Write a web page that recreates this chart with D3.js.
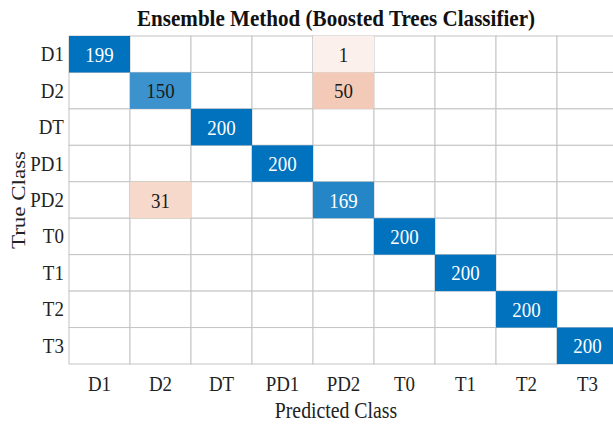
<!DOCTYPE html>
<html>
<head>
<meta charset="utf-8">
<script src="https://cdn.jsdelivr.net/npm/d3@7"></script>
<style>
  body { margin: 0; background: #fff; }
</style>
</head>
<body>
<svg id="chart" width="613" height="432"></svg>
<script>

var classes = ["D1", "D2", "DT", "PD1", "PD2", "T0", "T1", "T2", "T3"]

// rows = true class, cols = predicted class, 0 = empty cell
var counts = [
    [199, 0, 0, 0, 1, 0, 0, 0, 0],
    [0, 150, 0, 0, 50, 0, 0, 0, 0],
    [0, 0, 200, 0, 0, 0, 0, 0, 0],
    [0, 0, 0, 200, 0, 0, 0, 0, 0],
    [0, 31, 0, 0, 169, 0, 0, 0, 0],
    [0, 0, 0, 0, 0, 200, 0, 0, 0],
    [0, 0, 0, 0, 0, 0, 200, 0, 0],
    [0, 0, 0, 0, 0, 0, 0, 200, 0],
    [0, 0, 0, 0, 0, 0, 0, 0, 200]
]

var titleText = "Ensemble Method (Boosted Trees Classifier)"
var xLabel = "Predicted Class"
var yLabel = "True Class"

var font = "Liberation Serif, Times New Roman, serif"
var gLeft = 69, gTop = 36
var gridW = 549, gridH = 328
var squeeze = 0.86   // the source picture is a bit narrower than tall

var svg = d3.select("#chart")

var xScale = d3.scaleBand()
    .domain(classes)
    .range([gLeft, gLeft + gridW])

var yScale = d3.scaleBand()
    .domain(classes)
    .range([gTop, gTop + gridH])

var maxVal = d3.max(counts, function(r){ return d3.max(r) })

// non-zero cells never go fully white
var shade = d3.scaleLinear().domain([0, maxVal]).range([0.08, 1])
var blue = d3.interpolateRgb("#ffffff", "rgb(0,114,190)")
var red = d3.interpolateRgb("#ffffff", "rgb(217,83,25)")

var cells = []
counts.forEach(function(row, i){
    row.forEach(function(v, j){
        cells.push({row: classes[i], col: classes[j], v: v, diag: i == j})
    })
})
var filled = cells.filter(function(d){ return d.v > 0 })

// grid of empty cells
svg.append("g").selectAll("rect")
    .data(cells)
    .enter().append("rect")
    .attr("x", function(d){ return xScale(d.col) })
    .attr("y", function(d){ return yScale(d.row) })
    .attr("width", xScale.bandwidth())
    .attr("height", yScale.bandwidth())
    .attr("fill", "#ffffff")
    .attr("stroke", "#c4c4c4")
    .attr("stroke-width", 1)

// coloured cells on top so the grid does not cross them
svg.append("g").selectAll("rect")
    .data(filled)
    .enter().append("rect")
    .attr("x", function(d){ return xScale(d.col) })
    .attr("y", function(d){ return yScale(d.row) })
    .attr("width", xScale.bandwidth())
    .attr("height", yScale.bandwidth())
    .attr("fill", function(d){
        return d.diag ? blue(shade(d.v)) : red(shade(d.v))
    })

svg.append("g").selectAll("text")
    .data(filled)
    .enter().append("text")
    .attr("transform", function(d){
        var cx = xScale(d.col) + xScale.bandwidth() / 2
        var cy = yScale(d.row) + yScale.bandwidth() / 2 + 7.5
        return "translate(" + cx + "," + cy + ") scale(" + squeeze + ",1)"
    })
    .attr("text-anchor", "middle")
    .attr("font-family", font)
    .attr("font-size", 22)
    .attr("fill", function(d){ return (d.diag && shade(d.v) > 0.82) ? "#ffffff" : "#1a1a1a" })
    .text(function(d){ return d.v })

// axes
var x_axis = d3.axisBottom(xScale).tickSize(0).tickPadding(11)
var y_axis = d3.axisLeft(yScale).tickSize(0).tickPadding(6)

var gx = svg.append("g")
    .attr("transform", "translate(0," + (gTop + gridH) + ")")
    .call(x_axis)
gx.select(".domain").remove()
gx.attr("font-family", font)
gx.selectAll("text").attr("font-size", 22).attr("fill", "#222")
    .attr("transform", "scale(" + squeeze + ",1)")

var gy = svg.append("g")
    .attr("transform", "translate(" + gLeft + ",0)")
    .call(y_axis)
gy.select(".domain").remove()
gy.attr("font-family", font)
gy.selectAll("text").attr("font-size", 22).attr("fill", "#222")
    .attr("transform", "scale(" + squeeze + ",1)")

svg.append("text")
    .attr("x", 336)
    .attr("y", 26)
    .attr("text-anchor", "middle")
    .attr("font-family", font)
    .attr("font-size", 23)
    .attr("font-weight", "bold")
    .attr("fill", "#111")
    .attr("textLength", 398)
    .attr("lengthAdjust", "spacingAndGlyphs")
    .text(titleText)

svg.append("text")
    .attr("transform", "translate(336,418) scale(" + squeeze + ",1)")
    .attr("text-anchor", "middle")
    .attr("font-family", font)
    .attr("font-size", 23)
    .attr("fill", "#222")
    .text(xLabel)

svg.append("text")
    .attr("transform", "translate(25," + (gTop + gridH / 2) + ") rotate(-90) scale(1," + squeeze + ")")
    .attr("text-anchor", "middle")
    .attr("font-family", font)
    .attr("font-size", 23)
    .attr("fill", "#222")
    .text(yLabel)

</script>
</body>
</html>
